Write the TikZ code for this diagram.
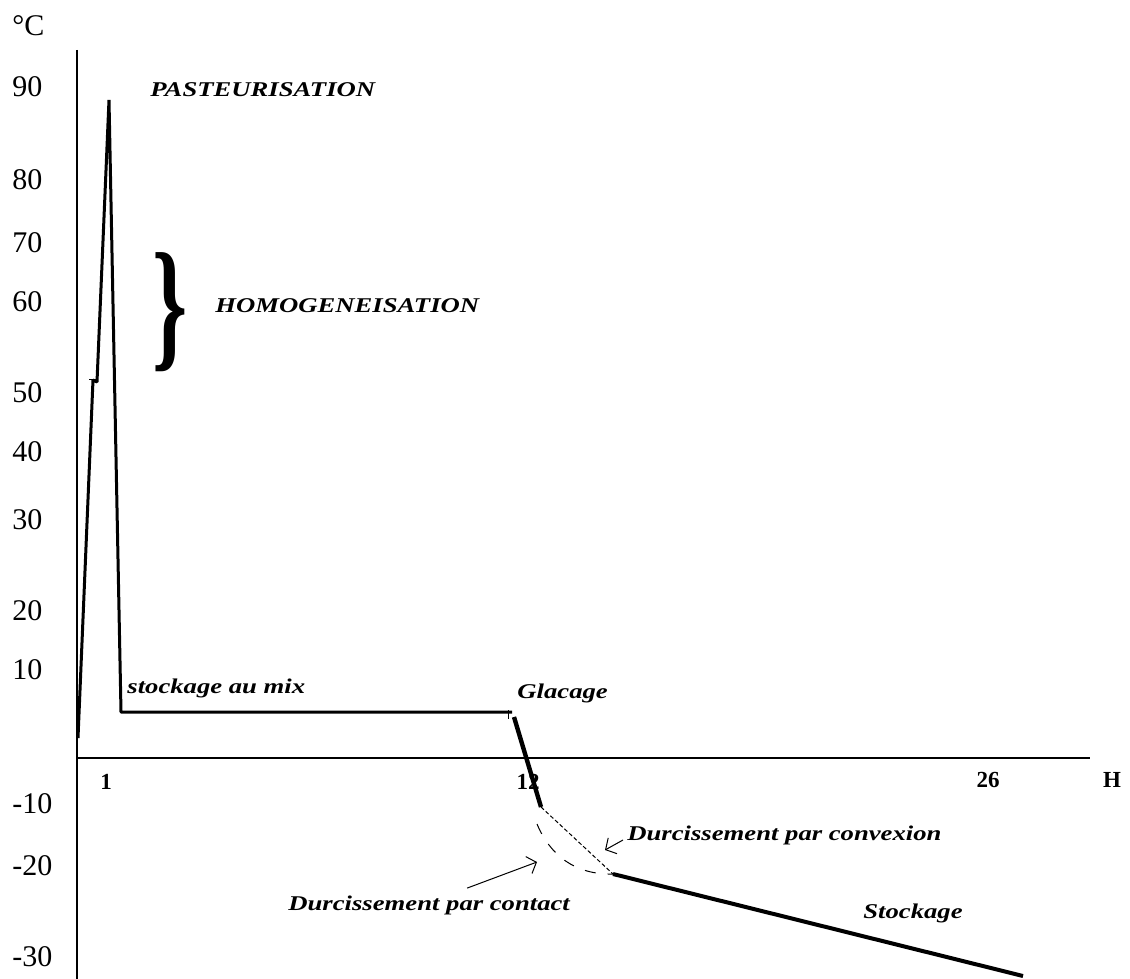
\documentclass[tikz,border=0pt]{standalone}
\usepackage{fontspec}
\setmainfont{Liberation Serif}
\newfontfamily\etiqfont[FakeStretch=1.27]{Liberation Serif}
\usetikzlibrary{arrows.meta}

\tikzset{
  axe/.style={line width=0.9pt},
  courbe/.style={line width=1.5pt, line join=bevel},
  graduation/.style={anchor=west, inner sep=0pt, font=\fontsize{15}{15}\selectfont},
  heure/.style={inner sep=0pt, font=\fontsize{11.5}{12}\selectfont\bfseries},
  etape/.style={anchor=west, inner sep=0pt, font=\etiqfont\fontsize{10.5}{12}\selectfont\bfseries\itshape},
  fleche/.style={line width=0.5pt, -{Straight Barb[length=4pt,width=9pt]}},
  tirets/.style={line width=0.5pt, dash pattern=on 5.5pt off 6pt},
  pointille/.style={line width=0.5pt, dash pattern=on 2pt off 1.2pt},
}

\begin{document}
\begin{tikzpicture}[x=0.5pt, y=-0.5pt]
    \useasboundingbox (0,0) rectangle (1130,979);
    % axes
    \coordinate (O) at (77,758);
    \coordinate (yhaut) at (77,50);
    \coordinate (ybas) at (77,979);
    \coordinate (xfin) at (1090,758);
    \draw[axe] (yhaut) -- (ybas);
    \draw[axe] (O) -- (xfin);

    % graduations en degres
    \node[graduation] (deg) at (12,26) {°C};
    \node[graduation] (t90) at (12,87) {90};
    \node[graduation] (t80) at (12,180) {80};
    \node[graduation] (t70) at (12,243) {70};
    \node[graduation] (t60) at (12,302) {60};
    \node[graduation] (t50) at (12,393) {50};
    \node[graduation] (t40) at (12,452) {40};
    \node[graduation] (t30) at (12,520) {30};
    \node[graduation] (t20) at (12,611) {20};
    \node[graduation] (t10) at (12,670) {10};
    \node[graduation] (tm10) at (12,804) {-10};
    \node[graduation] (tm20) at (12,866) {-20};
    \node[graduation] (tm30) at (12,957) {-30};

    % heures
    \node[heure] (h1) at (106,782) {1};
    \node[heure] (h12) at (528,782) {12};
    \node[heure] (h26) at (988,780) {26};
    \node[heure] (hH) at (1112,780) {H};

    % courbe de temperature
    \coordinate (c0) at (78,738);
    \coordinate (c1) at (93,380);
    \coordinate (c1b) at (97,382);
    \coordinate (pic) at (109,100);
    \coordinate (c2) at (121,712);
    \coordinate (c3) at (512,712);
    \coordinate (c4) at (514,717);
    \coordinate (c5) at (541,807);
    \coordinate (c6) at (613,874);
    \coordinate (c7) at (1023,976);
    \draw[courbe] (c0) -- (c1) -- (c1b) -- (pic) -- (c2) -- (c3);
    \draw[line width=0.5pt] (89,379) -- (97,379);
    \draw[line width=0.5pt] (508,710) -- (508,719);
    \draw[line width=2.2pt] (c4) -- (c5);
    \draw[pointille] (c5) -- (c6);
    \draw[tirets] (537,824) .. controls (550,855) and (575,875) .. (c6);
    \draw[line width=2pt] (c6) -- (c7);

    % etapes
    \node[etape] (pasteur) at (150,90) {PASTEURISATION};
    \node[inner sep=0pt] (accol) at (170,312) {\scalebox{0.62}[1]{\fontsize{72}{72}\selectfont\bfseries\}}};
    \node[etape] (homog) at (215,306) {HOMOGENEISATION};
    \node[etape] (mix) at (127,688) {stockage au mix};
    \node[etape] (glac) at (517,693) {Glacage};
    \node[etape] (lconv) at (627,835) {Durcissement par convexion};
    \node[etape] (lcont) at (288,905) {Durcissement par contact};
    \node[etape] (stock) at (863,913) {Stockage};

    \coordinate (pconv) at (605,850);
    \coordinate (pcont) at (537,862);
    \draw[fleche] ([xshift=-2pt,yshift=-2.5pt]lconv.west) -- (pconv);
    \draw[fleche] ([xshift=19pt,yshift=3.5pt]lcont.north) -- (pcont);
\end{tikzpicture}
\end{document}
